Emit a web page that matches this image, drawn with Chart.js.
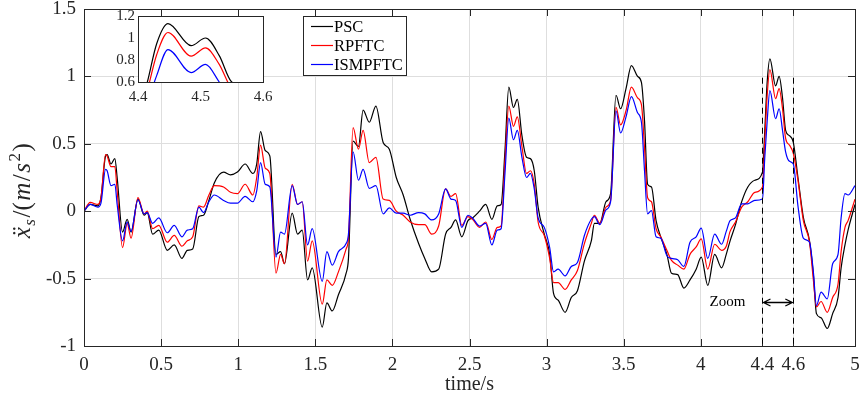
<!DOCTYPE html>
<html>
<head>
<meta charset="utf-8">
<script src="https://cdn.jsdelivr.net/npm/chart.js@4.4.0/dist/chart.umd.min.js"></script>
<style>
  html, body { margin: 0; padding: 0; background: #fff; }
  #wrap { position: relative; width: 859px; height: 399px; }
  #main { position: absolute; left: 0; top: 0; }
  #inset { position: absolute; left: 100px; top: 5px; }
</style>
</head>
<body>
<div id="wrap">
  <canvas id="main" width="859" height="399"></canvas>
  <canvas id="inset" width="180" height="105"></canvas>
</div>
<script>
// time samples (s) and the three acceleration traces
const times = [
  0.00, 0.04, 0.09, 0.11, 0.14, 0.15, 0.175, 0.20, 0.215, 0.25,
  0.28, 0.305, 0.35, 0.39, 0.41, 0.445, 0.485, 0.54, 0.585, 0.635,
  0.67, 0.705, 0.745, 0.775, 0.81, 0.845, 0.905, 0.95, 0.995, 1.045,
  1.095, 1.12, 1.145, 1.175, 1.205, 1.245, 1.275, 1.30, 1.35, 1.385,
  1.415, 1.45, 1.48, 1.545, 1.575, 1.61, 1.65, 1.70, 1.715, 1.745,
  1.78, 1.81, 1.85, 1.893, 1.94, 1.98, 2.025, 2.07, 2.115, 2.17,
  2.21, 2.255, 2.30, 2.345, 2.38, 2.41, 2.45, 2.49, 2.52, 2.565,
  2.605, 2.645, 2.68, 2.705, 2.73, 2.755, 2.785, 2.81, 2.84, 2.87,
  2.895, 2.92, 2.945, 2.985, 3.02, 3.045, 3.075, 3.12, 3.16, 3.20,
  3.245, 3.29, 3.31, 3.345, 3.385, 3.415, 3.45, 3.48, 3.515, 3.55,
  3.59, 3.615, 3.635, 3.655, 3.68, 3.71, 3.74, 3.78, 3.81, 3.85,
  3.89, 3.93, 3.97, 4.003, 4.045, 4.09, 4.135, 4.165, 4.19, 4.225,
  4.265, 4.305, 4.35, 4.40, 4.415, 4.43, 4.448, 4.485, 4.508, 4.53,
  4.55, 4.575, 4.60, 4.63, 4.665, 4.705, 4.73, 4.75, 4.78, 4.82,
  4.855, 4.89, 4.91, 4.935, 4.955, 5.00
];
const psc = [
  0, 0.05, 0.04, 0.10, 0.41, 0.42, 0.35, 0.39, 0.25, -0.155,
  -0.06, -0.155, 0.09, -0.03, -0.01, -0.17, -0.14, -0.29, -0.25, -0.35,
  -0.29, -0.28, -0.04, -0.03, 0.08, 0.21, 0.29, 0.27, 0.29, 0.35,
  0.28, 0.35, 0.59, 0.45, 0.41, -0.32, -0.30, -0.39, -0.015, -0.17,
  -0.14, -0.51, -0.42, -0.86, -0.68, -0.74, -0.62, -0.46, -0.35, 0.52,
  0.48, 0.75, 0.66, 0.78, 0.51, 0.46, 0.25, 0.12, -0.06, -0.24,
  -0.35, -0.45, -0.43, -0.17, -0.12, -0.065, -0.19, -0.07, -0.05, 0.0,
  0.05, -0.06, 0.04, 0.05, 0.45, 0.92, 0.77, 0.83, 0.56, 0.40,
  0.39, 0.30, 0.03, -0.17, -0.32, -0.61, -0.66, -0.75, -0.64, -0.59,
  -0.37, -0.22, -0.09, -0.09, 0.07, 0.13, 0.86, 0.76, 0.91, 1.08,
  1.00, 0.955, 0.67, 0.20, 0.18, -0.07, -0.19, -0.32, -0.46, -0.47,
  -0.57, -0.51, -0.43, -0.34, -0.55, -0.32, -0.42, -0.32, -0.22, -0.10,
  0.07, 0.18, 0.23, 0.29, 0.60, 0.95, 1.13, 0.93, 1.00, 0.84,
  0.60, 0.56, 0.51, 0.25, -0.045, -0.22, -0.47, -0.76, -0.79, -0.87,
  -0.76, -0.64, -0.42, -0.25, -0.14, 0.05
];
const rpftc = [
  0, 0.065, 0.05, 0.10, 0.42, 0.41, 0.33, 0.33, 0.15, -0.27,
  -0.09, -0.20, 0.10, -0.02, 0.0, -0.13, -0.105, -0.23, -0.18, -0.26,
  -0.22, -0.19, 0.04, 0.03, 0.12, 0.19, 0.18, 0.14, 0.13, 0.20,
  0.12, 0.25, 0.49, 0.32, 0.28, -0.46, -0.32, -0.39, 0.20, 0.05,
  0.07, -0.37, -0.22, -0.69, -0.51, -0.55, -0.45, -0.28, -0.20, 0.62,
  0.46, 0.60, 0.36, 0.40, 0.09, 0.08, 0.0, -0.03, -0.08, -0.10,
  -0.10, -0.17, -0.11, 0.165, 0.11, 0.13, -0.105, -0.04, -0.06, -0.12,
  -0.08, -0.21, -0.12, -0.11, 0.37, 0.78, 0.63, 0.70, 0.48, 0.28,
  0.30, 0.20, -0.08, -0.18, -0.35, -0.53, -0.53, -0.58, -0.51, -0.44,
  -0.24, -0.09, -0.03, -0.09, 0.03, 0.08, 0.77, 0.64, 0.745, 0.92,
  0.84, 0.79, 0.47, 0.10, 0.07, -0.13, -0.19, -0.29, -0.365, -0.40,
  -0.43, -0.32, -0.265, -0.205, -0.43, -0.245, -0.29, -0.26, -0.15, -0.08,
  0.03, 0.07, 0.14, 0.18, 0.52, 0.85, 1.05, 0.835, 0.91, 0.76,
  0.54, 0.49, 0.43, 0.23, -0.07, -0.23, -0.51, -0.71, -0.67, -0.75,
  -0.64, -0.54, -0.30, -0.12, -0.07, 0.09
];
const ismpftc = [
  0, 0.05, 0.03, 0.06, 0.31, 0.30, 0.19, 0.20, 0.05, -0.22,
  -0.08, -0.15, 0.085, -0.02, -0.01, -0.09, -0.05, -0.16, -0.105, -0.19,
  -0.14, -0.13, 0.03, -0.01, 0.07, 0.12, 0.08, 0.06, 0.06, 0.11,
  0.07, 0.15, 0.36, 0.20, 0.18, -0.34, -0.155, -0.17, 0.19, 0.05,
  0.07, -0.25, -0.13, -0.52, -0.30, -0.40, -0.30, -0.24, -0.17, 0.44,
  0.23, 0.31, 0.17, 0.19, -0.02, 0.025, -0.015, -0.015, -0.03, -0.01,
  -0.02, -0.065, -0.02, 0.165, 0.09, 0.08, -0.12, -0.03, -0.05, -0.11,
  -0.09, -0.25, -0.14, -0.13, 0.28, 0.69, 0.53, 0.60, 0.40, 0.25,
  0.28, 0.165, -0.05, -0.12, -0.27, -0.45, -0.43, -0.48, -0.41, -0.38,
  -0.18, -0.06, -0.04, -0.10, 0.01, 0.07, 0.745, 0.58, 0.70, 0.85,
  0.73, 0.66, 0.30, -0.02, 0.005, -0.19, -0.20, -0.33, -0.35, -0.36,
  -0.41, -0.23, -0.19, -0.125, -0.35, -0.17, -0.245, -0.15, -0.07, -0.05,
  0.055, 0.055, 0.08, 0.09, 0.40, 0.66, 0.895, 0.686, 0.76, 0.60,
  0.44, 0.37, 0.35, 0.04, -0.20, -0.23, -0.45, -0.70, -0.60, -0.65,
  -0.39, -0.32, -0.05, 0.13, 0.12, 0.19
];
const seriesNames = ["PSC", "RPFTC", "ISMPFTC"];
const seriesValues = [psc, rpftc, ismpftc];
const seriesColors = ["#000000", "#ff0000", "#0000ff"];

const xTicks = [0, 0.5, 1, 1.5, 2, 2.5, 3, 3.5, 4, 4.4, 4.6, 5];
const yTicks = [-1, -0.5, 0, 0.5, 1, 1.5];
const insetXTicks = [4.4, 4.5, 4.6];
const insetYTicks = [0.6, 0.8, 1, 1.2];
const zoomFrom = 4.4, zoomTo = 4.6;

const FONT = '"Liberation Serif", "Times New Roman", serif';
const TXT = '#262626';
const GRID = '#dedede';

function makeDatasets(lo, hi) {
  return seriesNames.map((name, i) => ({
    label: name,
    data: times.map((t, k) => ({ x: t, y: seriesValues[i][k] })).filter(p => p.x >= lo && p.x <= hi),
    borderColor: seriesColors[i],
    borderWidth: 1.2,
    pointRadius: 0,
    fill: false,
    cubicInterpolationMode: 'monotone',
    order: 3 - i
  }));
}

// no automatic label padding, the layout padding decides the plot box
function noPad(ax) {
  ax.paddingLeft = 0; ax.paddingRight = 0;
  ax.paddingTop = 0; ax.paddingBottom = 0;
}

// box around the plot plus MATLAB-like inward tick marks
const frame = {
  id: 'frame',
  beforeDatasetsDraw(chart, args, opts) {
    if (!opts.whiteBg) return;
    const a = chart.chartArea, ctx = chart.ctx;
    ctx.save();
    ctx.fillStyle = '#fff';
    ctx.fillRect(a.left, a.top, a.right - a.left, a.bottom - a.top);
    ctx.restore();
  },
  afterDatasetsDraw(chart, args, opts) {
    const { ctx, chartArea: a, scales: { x, y } } = chart;
    const L = opts.len || 0;
    ctx.save();
    ctx.strokeStyle = TXT;
    ctx.lineWidth = 1;
    ctx.beginPath();
    if (L > 0) {
      for (const v of opts.xt) {
        const px = Math.round(x.getPixelForValue(v)) + 0.5;
        ctx.moveTo(px, a.bottom); ctx.lineTo(px, a.bottom - L);
        ctx.moveTo(px, a.top); ctx.lineTo(px, a.top + L);
      }
      for (const v of opts.yt) {
        const py = Math.round(y.getPixelForValue(v)) + 0.5;
        ctx.moveTo(a.left, py); ctx.lineTo(a.left + L, py);
        ctx.moveTo(a.right, py); ctx.lineTo(a.right - L, py);
      }
    }
    ctx.stroke();
    ctx.strokeRect(Math.round(a.left) + 0.5, Math.round(a.top) + 0.5,
      Math.round(a.right - a.left), Math.round(a.bottom - a.top));
    ctx.restore();
  }
};

// zoom markers, legend box and y axis label
const extras = {
  id: 'extras',
  afterDraw(chart) {
    const { ctx, chartArea: a, scales: { x, y } } = chart;
    ctx.save();
    // dashed zoom window
    ctx.strokeStyle = '#000';
    ctx.lineWidth = 1;
    ctx.setLineDash([6, 4]);
    ctx.beginPath();
    for (const v of [zoomFrom, zoomTo]) {
      const px = Math.round(x.getPixelForValue(v)) + 0.5;
      ctx.moveTo(px, y.getPixelForValue(0.99));
      ctx.lineTo(px, a.bottom);
    }
    ctx.stroke();
    ctx.setLineDash([]);
    // double arrow
    const ay = Math.round(y.getPixelForValue(-0.675)) + 0.5;
    const x1 = x.getPixelForValue(zoomFrom) + 1, x2 = x.getPixelForValue(zoomTo) - 1;
    ctx.beginPath();
    ctx.moveTo(x1, ay); ctx.lineTo(x2, ay);
    ctx.moveTo(x1 + 7, ay - 3.5); ctx.lineTo(x1, ay); ctx.lineTo(x1 + 7, ay + 3.5);
    ctx.moveTo(x2 - 7, ay - 3.5); ctx.lineTo(x2, ay); ctx.lineTo(x2 - 7, ay + 3.5);
    ctx.lineWidth = 1.3;
    ctx.stroke();
    ctx.fillStyle = '#000';
    ctx.font = '15px ' + FONT;
    ctx.textAlign = 'center';
    ctx.textBaseline = 'middle';
    ctx.fillText('Zoom', x1 - 36, ay);

    // legend
    const lx = 303.5, ly = 16.5, lw = 103, lh = 59;
    ctx.fillStyle = '#fff';
    ctx.fillRect(lx, ly, lw, lh);
    ctx.strokeStyle = TXT;
    ctx.lineWidth = 1;
    ctx.strokeRect(lx, ly, lw, lh);
    ctx.font = '16.5px ' + FONT;
    ctx.textAlign = 'left';
    seriesNames.forEach((name, i) => {
      const ry = Math.round(26 + i * 19) + 0.5;
      ctx.strokeStyle = seriesColors[i];
      ctx.lineWidth = 1.2;
      ctx.beginPath();
      ctx.moveTo(311, ry); ctx.lineTo(333, ry);
      ctx.stroke();
      ctx.fillStyle = '#000';
      ctx.fillText(name, 334, ry + 1);
    });

    // y label: x-double-dot_s/(m/s^2)
    const parts = [
      { t: 'x\u0308', f: 'italic 25px ' + FONT, dy: 0 },
      { t: 's', f: 'italic 17px ' + FONT, dy: 5 },
      { t: '/(', f: '25px ' + FONT, dy: 0 },
      { t: 'm', f: 'italic 25px ' + FONT, dy: 0 },
      { t: '/', f: '25px ' + FONT, dy: 0 },
      { t: 's', f: 'italic 25px ' + FONT, dy: 0 },
      { t: '2', f: '17px ' + FONT, dy: -10 },
      { t: ')', f: '25px ' + FONT, dy: 0 }
    ];
    const gap = 1.5;
    let total = 0;
    parts.forEach(p => { ctx.font = p.f; p.w = ctx.measureText(p.t).width; total += p.w + gap; });
    ctx.translate(30, 190);
    ctx.rotate(-Math.PI / 2);
    ctx.fillStyle = TXT;
    ctx.textBaseline = 'alphabetic';
    let cx = -total / 2;
    parts.forEach(p => { ctx.font = p.f; ctx.fillText(p.t, cx, p.dy); cx += p.w + gap; });
    ctx.restore();
  }
};

new Chart(document.getElementById('main'), {
  type: 'line',
  data: { datasets: makeDatasets(0, 5) },
  options: {
    responsive: false,
    animation: false,
    events: [],
    layout: { padding: { top: 9, right: 4, left: 0, bottom: 0 } },
    plugins: {
      legend: { display: false },
      tooltip: { enabled: false },
      frame: { xt: xTicks, yt: yTicks, len: 7 }
    },
    scales: {
      x: {
        type: 'linear', min: 0, max: 5,
        afterBuildTicks: ax => { ax.ticks = xTicks.map(v => ({ value: v })); },
        afterFit: ax => { ax.height = 53; noPad(ax); },
        grid: { color: GRID, drawTicks: false },
        border: { display: false },
        ticks: { autoSkip: false, maxRotation: 0, padding: 8, color: TXT,
          font: { family: FONT, size: 19 }, callback: v => String(v) },
        title: { display: true, text: 'time/s', color: TXT,
          font: { family: FONT, size: 20 }, padding: { top: 0, bottom: 2 } }
      },
      y: {
        type: 'linear', min: -1, max: 1.5,
        afterBuildTicks: ax => { ax.ticks = yTicks.map(v => ({ value: v })); },
        afterFit: ax => { ax.width = 84; noPad(ax); },
        grid: { color: GRID, drawTicks: false },
        border: { display: false },
        ticks: { padding: 8, color: TXT, font: { family: FONT, size: 19 },
          callback: v => String(v) }
      }
    }
  },
  plugins: [frame, extras]
});

new Chart(document.getElementById('inset'), {
  type: 'line',
  data: { datasets: makeDatasets(4.3, 4.7) },
  options: {
    responsive: false,
    animation: false,
    events: [],
    layout: { padding: { top: 11, right: 17, left: 0, bottom: 0 } },
    plugins: {
      legend: { display: false },
      tooltip: { enabled: false },
      frame: { xt: insetXTicks, yt: insetYTicks, len: 0, whiteBg: true }
    },
    scales: {
      x: {
        type: 'linear', min: 4.4, max: 4.6,
        afterBuildTicks: ax => { ax.ticks = insetXTicks.map(v => ({ value: v })); },
        afterFit: ax => { ax.height = 28; noPad(ax); },
        grid: { color: GRID, drawTicks: false },
        border: { display: false },
        ticks: { autoSkip: false, maxRotation: 0, padding: 6, color: TXT,
          font: { family: FONT, size: 15 }, callback: v => String(v) }
      },
      y: {
        type: 'linear', min: 0.6, max: 1.2,
        afterBuildTicks: ax => { ax.ticks = insetYTicks.map(v => ({ value: v })); },
        afterFit: ax => { ax.width = 38; noPad(ax); },
        grid: { color: GRID, drawTicks: false },
        border: { display: false },
        ticks: { padding: 3, color: TXT, font: { family: FONT, size: 15 },
          callback: v => String(v) }
      }
    }
  },
  plugins: [frame]
});
</script>
</body>
</html>
